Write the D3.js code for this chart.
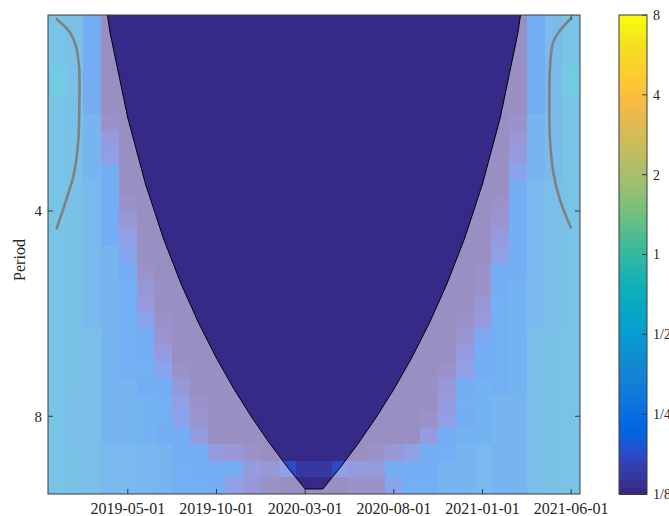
<!DOCTYPE html>
<html><head><meta charset="utf-8">
<script src="https://cdn.jsdelivr.net/npm/d3@7"></script>
<style>body{margin:0;background:#fff}svg{display:block}</style>
</head><body><svg id="c" width="669" height="516"></svg>
<script>
// ---------------- data ----------------
const months = ["2019-01-01","2019-02-01","2019-03-01","2019-04-01","2019-05-01","2019-06-01",
  "2019-07-01","2019-08-01","2019-09-01","2019-10-01","2019-11-01","2019-12-01",
  "2020-01-01","2020-02-01","2020-03-01","2020-04-01","2020-05-01","2020-06-01",
  "2020-07-01","2020-08-01","2020-09-01","2020-10-01","2020-11-01","2020-12-01",
  "2021-01-01","2021-02-01","2021-03-01","2021-04-01","2021-05-01","2021-06-01"];
const xTickLabels = ["2019-05-01","2019-10-01","2020-03-01","2020-08-01","2021-01-01","2021-06-01"];
const periodTicks = [4, 8];
const periodRange = [2.064, 10.40];
// log2 power, one string per period row (top = shortest period), 30 months each
const powerRows = [
"-1.25 -1.35 -2.2 -3 -3 -3 -3 -3 -3 -3  -3 -3 -3 -3 -3 -3 -3 -3 -3 -3  -3 -3 -3 -3 -3 -3 -3 -2.2 -1.6 -1.25",
"-1.25 -1.35 -2.2 -3 -3 -3 -3 -3 -3 -3  -3 -3 -3 -3 -3 -3 -3 -3 -3 -3  -3 -3 -3 -3 -3 -3 -3 -2.2 -1.6 -1.25",
"-1.25 -1.35 -2.2 -3 -3 -3 -3 -3 -3 -3  -3 -3 -3 -3 -3 -3 -3 -3 -3 -3  -3 -3 -3 -3 -3 -3 -3 -2.2 -1.6 -1.25",
"-1.0 -1.35 -2.2 -3 -3 -3 -3 -3 -3 -3  -3 -3 -3 -3 -3 -3 -3 -3 -3 -3  -3 -3 -3 -3 -3 -3 -3 -2.2 -1.6 -1.0",
"-1.0 -1.35 -2.2 -3 -3 -3 -3 -3 -3 -3  -3 -3 -3 -3 -3 -3 -3 -3 -3 -3  -3 -3 -3 -3 -3 -3 -3 -2.2 -1.6 -1.0",
"-1.25 -1.35 -2.2 -3 -3 -3 -3 -3 -3 -3  -3 -3 -3 -3 -3 -3 -3 -3 -3 -3  -3 -3 -3 -3 -3 -3 -3 -2.2 -1.6 -1.25",
"-1.25 -1.35 -1.95 -2.85 -3 -3 -3 -3 -3 -3  -3 -3 -3 -3 -3 -3 -3 -3 -3 -3  -3 -3 -3 -3 -3 -3 -2.85 -1.95 -1.6 -1.25",
"-1.25 -1.35 -1.95 -2.55 -3 -3 -3 -3 -3 -3  -3 -3 -3 -3 -3 -3 -3 -3 -3 -3  -3 -3 -3 -3 -3 -3 -2.7 -1.95 -1.6 -1.25",
"-1.25 -1.35 -1.95 -2.45 -3 -3 -3 -3 -3 -3  -3 -3 -3 -3 -3 -3 -3 -3 -3 -3  -3 -3 -3 -3 -3 -3 -2.55 -1.95 -1.6 -1.25",
"-1.25 -1.35 -1.95 -2.25 -3 -3 -3 -3 -3 -3  -3 -3 -3 -3 -3 -3 -3 -3 -3 -3  -3 -3 -3 -3 -3 -3 -2.35 -1.95 -1.6 -1.25",
"-1.25 -1.35 -1.7 -2.25 -3 -3 -3 -3 -3 -3  -3 -3 -3 -3 -3 -3 -3 -3 -3 -3  -3 -3 -3 -3 -3 -3 -2.25 -1.7 -1.45 -1.25",
"-1.25 -1.35 -1.7 -2.25 -2.85 -3 -3 -3 -3 -3  -3 -3 -3 -3 -3 -3 -3 -3 -3 -3  -3 -3 -3 -3 -3 -2.85 -2.25 -1.7 -1.45 -1.25",
"-1.25 -1.35 -1.7 -2.25 -2.7 -3 -3 -3 -3 -3  -3 -3 -3 -3 -3 -3 -3 -3 -3 -3  -3 -3 -3 -3 -3 -2.75 -2.2 -1.7 -1.45 -1.25",
"-1.25 -1.35 -1.7 -2.25 -2.5 -3 -3 -3 -3 -3  -3 -3 -3 -3 -3 -3 -3 -3 -3 -3  -3 -3 -3 -3 -3 -2.6 -2.2 -1.7 -1.45 -1.25",
"-1.25 -1.35 -1.7 -1.9 -2.35 -3 -3 -3 -3 -3  -3 -3 -3 -3 -3 -3 -3 -3 -3 -3  -3 -3 -3 -3 -3 -2.5 -2.2 -1.7 -1.45 -1.25",
"-1.25 -1.35 -1.7 -1.9 -2.25 -2.9 -3 -3 -3 -3  -3 -3 -3 -3 -3 -3 -3 -3 -3 -3  -3 -3 -3 -3 -2.9 -2.25 -2.2 -1.7 -1.45 -1.25",
"-1.25 -1.35 -1.7 -1.9 -2.1 -2.7 -3 -3 -3 -3  -3 -3 -3 -3 -3 -3 -3 -3 -3 -3  -3 -3 -3 -3 -2.85 -2.2 -2.05 -1.7 -1.45 -1.25",
"-1.25 -1.35 -1.7 -1.9 -2.1 -2.55 -3 -3 -3 -3  -3 -3 -3 -3 -3 -3 -3 -3 -3 -3  -3 -3 -3 -3 -2.7 -2.1 -2.05 -1.7 -1.45 -1.25",
"-1.25 -1.35 -1.7 -1.9 -2.1 -2.35 -2.85 -3 -3 -3  -3 -3 -3 -3 -3 -3 -3 -3 -3 -3  -3 -3 -3 -2.9 -2.55 -2.1 -2.05 -1.7 -1.45 -1.25",
"-1.25 -1.35 -1.5 -1.9 -2.1 -2.25 -2.8 -3 -3 -3  -3 -3 -3 -3 -3 -3 -3 -3 -3 -3  -3 -3 -3 -2.8 -2.3 -2.1 -2.05 -1.5 -1.35 -1.25",
"-1.25 -1.35 -1.5 -1.9 -2.1 -2.2 -2.55 -3 -3 -3  -3 -3 -3 -3 -3 -3 -3 -3 -3 -3  -3 -3 -3 -2.55 -2.25 -2.1 -2.05 -1.5 -1.35 -1.25",
"-1.25 -1.35 -1.5 -1.9 -2.1 -2.1 -2.35 -2.85 -3 -3  -3 -3 -3 -3 -3 -3 -3 -3 -3 -3  -3 -3 -2.85 -2.45 -2.25 -2.1 -2.05 -1.5 -1.35 -1.25",
"-1.25 -1.35 -1.5 -1.9 -1.9 -2.2 -2.25 -2.7 -3 -3  -3 -3 -3 -3 -3 -3 -3 -3 -3 -3  -3 -3 -2.7 -2.25 -2.05 -2.1 -2.05 -1.5 -1.35 -1.25",
"-1.25 -1.45 -1.5 -1.9 -1.9 -2.05 -2.1 -2.5 -2.85 -3  -3 -3 -3 -3 -3 -3 -3 -3 -3 -3  -3 -3 -2.55 -2.15 -2.05 -1.9 -1.9 -1.5 -1.35 -1.25",
"-1.25 -1.45 -1.5 -1.9 -1.9 -2.05 -2.1 -2.35 -2.75 -3  -3 -3 -3 -3 -3 -3 -3 -3 -3 -3  -3 -2.85 -2.45 -2.2 -2.05 -1.9 -1.9 -1.5 -1.35 -1.25",
"-1.25 -1.45 -1.5 -1.9 -1.9 -2.05 -2.2 -2.25 -2.55 -3  -3 -3 -3 -3 -3 -3 -3 -3 -3 -3  -3 -2.55 -2.25 -2.05 -2.05 -1.9 -1.9 -1.5 -1.35 -1.25",
"-1.25 -1.35 -1.5 -1.7 -1.75 -1.85 -1.95 -2.2 -2.25 -2.55  -2.7 -2.85 -3 -3 -3 -3 -3 -3 -2.85 -2.7  -2.5 -2.25 -2.1 -1.9 -1.75 -1.9 -1.9 -1.5 -1.35 -1.25",
"-1.25 -1.35 -1.5 -1.7 -1.75 -1.85 -1.95 -2.1 -2.2 -2.25  -2.25 -2.55 -2.7 -2.5 -2.75 -2.75 -2.5 -2.6 -2.6 -2.25  -2.25 -2.2 -1.95 -1.9 -1.75 -1.9 -1.9 -1.5 -1.35 -1.25",
"-1.25 -1.35 -1.5 -1.7 -1.75 -1.85 -1.95 -2.1 -2.1 -2.25  -2.45 -2.7 -2.85 -3 -3 -3 -3 -2.85 -2.85 -2.4  -2.15 -2.1 -1.95 -1.9 -1.75 -1.9 -1.9 -1.5 -1.35 -1.25"
];
// cone of influence: distance from the series edge (months) times Morlet factor
const coiDistance = [1e-5,1,2,3,4,5,6,7,8,9,10,11,12,13,14,14,13,12,11,10,9,8,7,6,5,4,3,2,1,1e-5];
const coiFactor = 0.7304;
// significance contours [month index, period]
const contourLeft = [[-0.01,2.092],[0.74,2.19],[1.08,2.297],[1.25,2.457],[1.27,2.749],[1.21,3.147],[0.97,3.52],[0.645,3.768],[-0.01,4.24]];
const contourRight = [[29.0,2.087],[28.28,2.19],[27.97,2.27],[27.81,2.457],[27.77,2.749],[27.81,3.147],[28.0,3.52],[28.38,3.86],[28.98,4.23]];
const colorbarTicks = [-3,-2,-1,0,1,2,3];
const colorbarLabels = ["1/8","1/4","1/2","1","2","4","8"];

// parula (64)
const parula = [[0.2081,0.1663,0.5292],[0.2116,0.1898,0.5777],[0.2123,0.2138,0.627],[0.2081,0.2386,0.6771],[0.1959,0.2645,0.7279],[0.1707,0.2919,0.7792],[0.1253,0.3242,0.8303],[0.0591,0.3598,0.8683],[0.0117,0.3875,0.882],[0.006,0.4086,0.8828],[0.0165,0.4266,0.8786],[0.0329,0.443,0.872],[0.0498,0.4586,0.8641],[0.0629,0.4737,0.8554],[0.0723,0.4887,0.8467],[0.0779,0.504,0.8384],[0.0793,0.52,0.8312],[0.0749,0.5375,0.8263],[0.0641,0.557,0.824],[0.0488,0.5772,0.8228],[0.0343,0.5966,0.8199],[0.0265,0.6137,0.8135],[0.0239,0.6287,0.8038],[0.0231,0.6418,0.7913],[0.0228,0.6535,0.7768],[0.0267,0.6642,0.7607],[0.0384,0.6743,0.7436],[0.059,0.6838,0.7254],[0.0843,0.6928,0.7062],[0.1133,0.7015,0.6859],[0.1453,0.7098,0.6646],[0.1801,0.7177,0.6424],[0.2178,0.725,0.6193],[0.2586,0.7317,0.5954],[0.3022,0.7376,0.5712],[0.3482,0.7424,0.5473],[0.3953,0.7459,0.5244],[0.442,0.7481,0.5033],[0.4871,0.7491,0.484],[0.53,0.7491,0.4661],[0.5709,0.7485,0.4494],[0.6099,0.7473,0.4337],[0.6473,0.7456,0.4188],[0.6834,0.7435,0.4044],[0.7184,0.7411,0.3905],[0.7525,0.7384,0.3768],[0.7858,0.7356,0.3633],[0.8185,0.7327,0.3498],[0.8507,0.7299,0.336],[0.8824,0.7274,0.3217],[0.9139,0.7258,0.3063],[0.945,0.7261,0.2886],[0.9739,0.7314,0.2666],[0.9938,0.7455,0.2403],[0.999,0.7653,0.2164],[0.9955,0.7861,0.1967],[0.988,0.8066,0.1794],[0.9789,0.8271,0.1633],[0.9697,0.8481,0.1475],[0.9626,0.8705,0.1309],[0.9589,0.8949,0.1132],[0.9598,0.9218,0.0948],[0.9661,0.9514,0.0755],[0.9763,0.9831,0.0538]];
const parulaCss = parula.map(c => d3.rgb(c[0]*255, c[1]*255, c[2]*255).toString());

// ---------------- drawing ----------------
const svg = d3.select("#c");
const L = 48, R = 580, T = 15, B = 494;
const FONT = "'Liberation Serif','Times New Roman',serif";
const INK = "#262626";

const matrix = powerRows.map(s => s.trim().split(/\s+/).map(Number));
const xBand = d3.scaleBand().domain(months).range([L, R]).padding(0);
const xIdx = d3.scaleLinear().domain([-0.5, months.length - 0.5]).range([L, R]);
const yRow = d3.scaleBand().domain(d3.range(matrix.length)).range([T, B]).padding(0);
const yPer = d3.scaleLog().base(2).domain(periodRange).range([T, B]);
const cScale = d3.scaleQuantize().domain([-3, 3]).range(parulaCss);
const colorOf = v => cScale(Math.max(-3, Math.min(2.999, v)));
// washed-out look of the region outside the cone of influence
const shade = col => {
  const c = d3.rgb(col), s = 1.3;
  const w = [(c.r + 255) / 2, (c.g + 255) / 2, (c.b + 255) / 2];
  const r = (0.213 + 0.787 * s) * w[0] + (0.715 - 0.715 * s) * w[1] + (0.072 - 0.072 * s) * w[2];
  const g = ((0.213 - 0.213 * s) * w[0] + (0.715 + 0.285 * s) * w[1] + (0.072 - 0.072 * s) * w[2]) * 0.97;
  const b = ((0.213 - 0.213 * s) * w[0] + (0.715 - 0.715 * s) * w[1] + (0.072 + 0.928 * s) * w[2]) * 0.935;
  return d3.rgb(r, g, b).toString();
};

const defs = svg.append("defs");
defs.append("clipPath").attr("id", "plotclip")
  .append("rect").attr("x", L).attr("y", T).attr("width", R - L).attr("height", B - T);

// cone of influence geometry
const coiPts = coiDistance.map((d, i) => [xIdx(i), yPer(d * coiFactor)]);
const poly = [[xIdx(-0.5), coiPts[0][1]], ...coiPts, [xIdx(months.length - 0.5), coiPts[coiPts.length - 1][1]],
              [xIdx(months.length - 0.5), B + 20], [xIdx(-0.5), B + 20]];
const polyD = "M" + poly.map(p => p.join(",")).join("L") + "Z";
defs.append("clipPath").attr("id", "outside").append("path").attr("d", polyD);

const plot = svg.append("g").attr("clip-path", "url(#plotclip)");

function drawCells(g, colorFn) {
  matrix.forEach((row, r) => {
    g.append("g").selectAll("rect").data(row).join("rect")
      .attr("x", (v, c) => xBand(months[c]))
      .attr("y", yRow(r))
      .attr("width", xBand.bandwidth() + 1)
      .attr("height", yRow.bandwidth() + 1)
      .attr("fill", v => colorFn(v));
  });
}
drawCells(plot.append("g").attr("shape-rendering", "crispEdges"), colorOf);
drawCells(plot.append("g").attr("clip-path", "url(#outside)").append("g").attr("shape-rendering", "crispEdges"),
          v => shade(colorOf(v)));

// significance contours
const cLine = d3.line().x(d => xIdx(d[0])).y(d => yPer(d[1])).curve(d3.curveCatmullRom);
[contourLeft, contourRight].forEach(pts => {
  plot.append("path").attr("d", cLine(pts)).attr("fill", "none")
    .attr("stroke", "#808080").attr("stroke-width", 2.6).attr("stroke-linecap", "round");
});

// COI line
plot.append("path").attr("d", d3.line()(coiPts)).attr("fill", "none")
  .attr("stroke", "#000").attr("stroke-width", 1);

// frame + ticks
const ax = svg.append("g").attr("stroke", "#3a3a3a").attr("stroke-width", 1);
ax.append("rect").attr("x", L).attr("y", T).attr("width", R - L).attr("height", B - T).attr("fill", "none");
xTickLabels.forEach(lbl => {
  const x = xBand(lbl) + xBand.bandwidth() / 2;
  ax.append("line").attr("x1", x).attr("x2", x).attr("y1", B).attr("y2", B - 5);
  ax.append("line").attr("x1", x).attr("x2", x).attr("y1", T).attr("y2", T + 5);
  svg.append("text").attr("x", x).attr("y", 514).attr("text-anchor", "middle")
    .attr("font-family", FONT).attr("font-size", 16).attr("fill", INK).text(lbl);
});
periodTicks.forEach(p => {
  const y = yPer(p);
  ax.append("line").attr("x1", L).attr("x2", L + 5).attr("y1", y).attr("y2", y);
  ax.append("line").attr("x1", R).attr("x2", R - 5).attr("y1", y).attr("y2", y);
  svg.append("text").attr("x", 42).attr("y", y).attr("dy", "0.35em").attr("text-anchor", "end")
    .attr("font-family", FONT).attr("font-size", 15).attr("fill", INK).text(p);
});
svg.append("text").attr("transform", "translate(25,260) rotate(-90)")
  .attr("text-anchor", "middle").attr("font-family", FONT).attr("font-size", 16)
  .attr("fill", INK).text("Period");

// colorbar
const CL = 619, CR = 647;
const cbY = d3.scaleLinear().domain([-3, 3]).range([B, T]);
const step = 6 / parulaCss.length;
svg.append("g").attr("shape-rendering", "crispEdges").selectAll("rect").data(parulaCss).join("rect")
  .attr("x", CL).attr("width", CR - CL)
  .attr("y", (c, i) => cbY(-3 + (i + 1) * step))
  .attr("height", (c, i) => cbY(-3 + i * step) - cbY(-3 + (i + 1) * step) + 1)
  .attr("fill", c => c);
svg.append("rect").attr("x", CL).attr("y", T).attr("width", CR - CL).attr("height", B - T)
  .attr("fill", "none").attr("stroke", "#3a3a3a").attr("stroke-width", 1);
colorbarTicks.forEach((t, i) => {
  const y = cbY(t);
  svg.append("line").attr("x1", CR).attr("x2", CR - 5).attr("y1", y).attr("y2", y)
    .attr("stroke", "#3a3a3a").attr("stroke-width", 1);
  svg.append("text").attr("x", 653).attr("y", y).attr("dy", "0.35em")
    .attr("font-family", FONT).attr("font-size", 14).attr("fill", INK).text(colorbarLabels[i]);
});
</script>
</body></html>
